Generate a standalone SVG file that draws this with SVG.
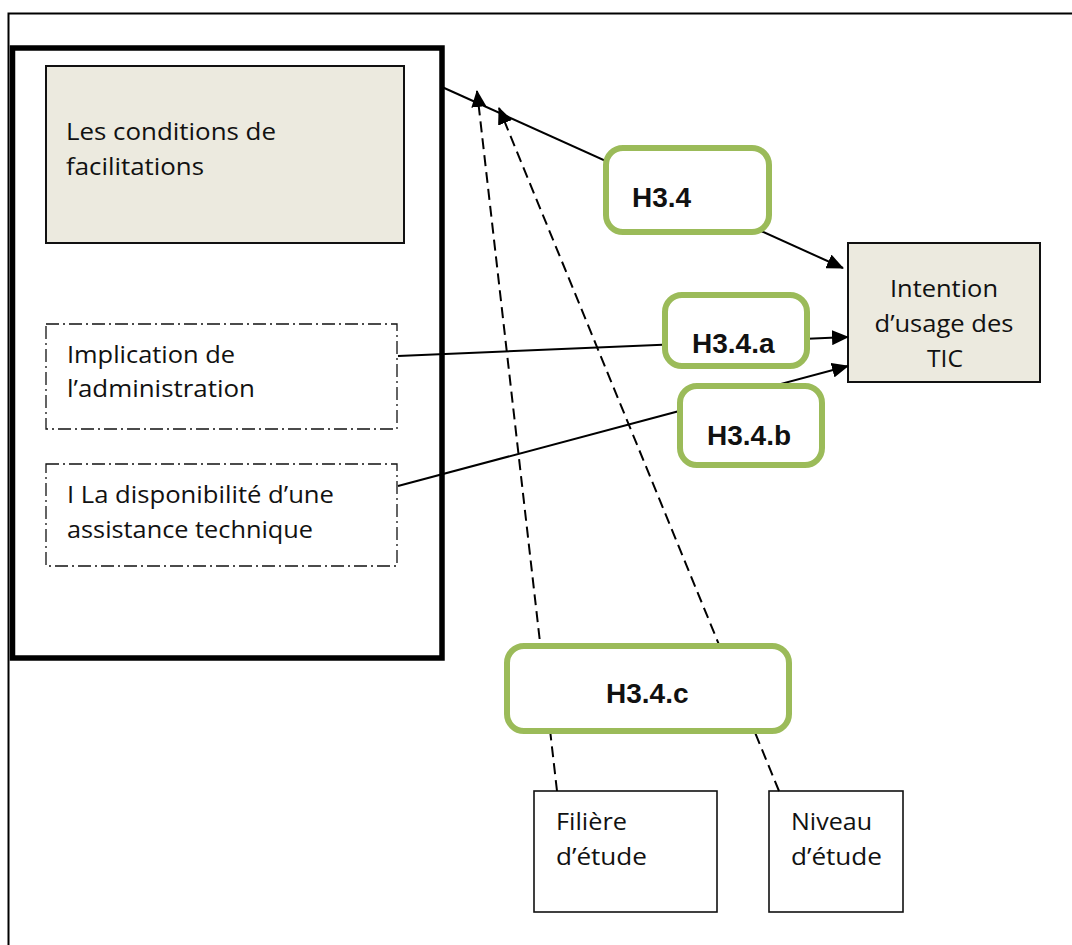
<svg xmlns="http://www.w3.org/2000/svg" width="1072" height="945" viewBox="0 0 1072 945">
<defs>
<marker id="arr" markerUnits="userSpaceOnUse" markerWidth="17" markerHeight="15" viewBox="0 0 17 15" refX="16" refY="7.5" orient="auto">
<path d="M0,0 L17,7.5 L0,15 z" fill="#000"/>
</marker>
<style>
.txt{font-family:"Open Sans","Liberation Sans",sans-serif;font-size:24.5px;fill:#111;}
.lbl{font-family:"Liberation Sans",Arial,sans-serif;font-size:28px;font-weight:bold;fill:#111;}
.beige{fill:#ECEADF;stroke:#111;stroke-width:2;}
.plain{fill:#fff;stroke:#111;stroke-width:1.6;}
.dd{fill:#fff;stroke:#111;stroke-width:1.3;stroke-dasharray:13 4 2 4;}
.green{fill:#fff;stroke:#9BBB59;stroke-width:6;}
.solid{stroke:#000;stroke-width:2;fill:none;marker-end:url(#arr);}
.dash{stroke:#000;stroke-width:2;fill:none;stroke-dasharray:11 6;marker-end:url(#arr);}
</style>
</defs>
<rect width="1072" height="945" fill="#fff"/>
<path d="M8.5,945 V13.5 H1072" fill="none" stroke="#000" stroke-width="2"/>
<g id="groupe-facilitations">
<rect x="12.5" y="48" width="429.5" height="610" fill="#fff" stroke="#000" stroke-width="5.5"/>
</g>
<g id="n-conditions">
<rect class="beige" x="46" y="66" width="358" height="177"/>
<text class="txt" x="66" y="140" textLength="210" lengthAdjust="spacingAndGlyphs">Les conditions de</text>
<text class="txt" x="66" y="175" textLength="138" lengthAdjust="spacingAndGlyphs">facilitations</text>
</g>
<g id="n-implication">
<rect class="dd" x="46" y="324" width="351" height="105"/>
<text class="txt" x="67" y="363" textLength="168" lengthAdjust="spacingAndGlyphs">Implication de</text>
<text class="txt" x="67" y="397" textLength="188" lengthAdjust="spacingAndGlyphs">l’administration</text>
</g>
<g id="n-assistance">
<rect class="dd" x="46" y="464" width="351" height="102"/>
<text class="txt" x="67" y="503" textLength="267" lengthAdjust="spacingAndGlyphs">I La disponibilité d’une</text>
<text class="txt" x="67" y="538" textLength="246" lengthAdjust="spacingAndGlyphs">assistance technique</text>
</g>
<g id="n-intention">
<rect class="beige" x="848" y="243" width="192" height="139"/>
<text class="txt" x="944" y="297" text-anchor="middle" textLength="108" lengthAdjust="spacingAndGlyphs">Intention</text>
<text class="txt" x="944" y="332" text-anchor="middle" textLength="139" lengthAdjust="spacingAndGlyphs">d’usage des</text>
<text class="txt" x="945" y="367" text-anchor="middle" textLength="36" lengthAdjust="spacingAndGlyphs">TIC</text>
</g>
<g id="n-filiere">
<rect class="plain" x="534" y="791" width="183" height="121"/>
<text class="txt" x="556" y="830" textLength="71" lengthAdjust="spacingAndGlyphs">Filière</text>
<text class="txt" x="556" y="865" textLength="91" lengthAdjust="spacingAndGlyphs">d’étude</text>
</g>
<g id="n-niveau">
<rect class="plain" x="769" y="791" width="134" height="121"/>
<text class="txt" x="791" y="830" textLength="81" lengthAdjust="spacingAndGlyphs">Niveau</text>
<text class="txt" x="791" y="865" textLength="91" lengthAdjust="spacingAndGlyphs">d’étude</text>
</g>
<g id="connectors">
<line class="solid" x1="442" y1="87" x2="843" y2="268"/>
<line class="solid" x1="398" y1="356" x2="848" y2="337"/>
<line class="solid" x1="398" y1="486" x2="848" y2="366"/>
<line class="dash" x1="557" y1="791" x2="477" y2="91"/>
<line class="dash" x1="779" y1="791" x2="499" y2="108"/>
</g>
<g id="l-h34">
<rect class="green" x="606" y="148" width="163" height="84" rx="17"/>
<text class="lbl" x="632" y="207">H3.4</text>
</g>
<g id="l-h34a">
<rect class="green" x="665" y="295" width="142" height="71" rx="17"/>
<text class="lbl" x="692" y="353">H3.4.a</text>
</g>
<g id="l-h34b">
<rect class="green" x="680" y="386" width="142" height="79" rx="17"/>
<text class="lbl" x="707" y="445">H3.4.b</text>
</g>
<g id="l-h34c">
<rect class="green" x="507" y="646" width="282" height="85" rx="17"/>
<text class="lbl" x="606" y="703">H3.4.c</text>
</g>
</svg>
